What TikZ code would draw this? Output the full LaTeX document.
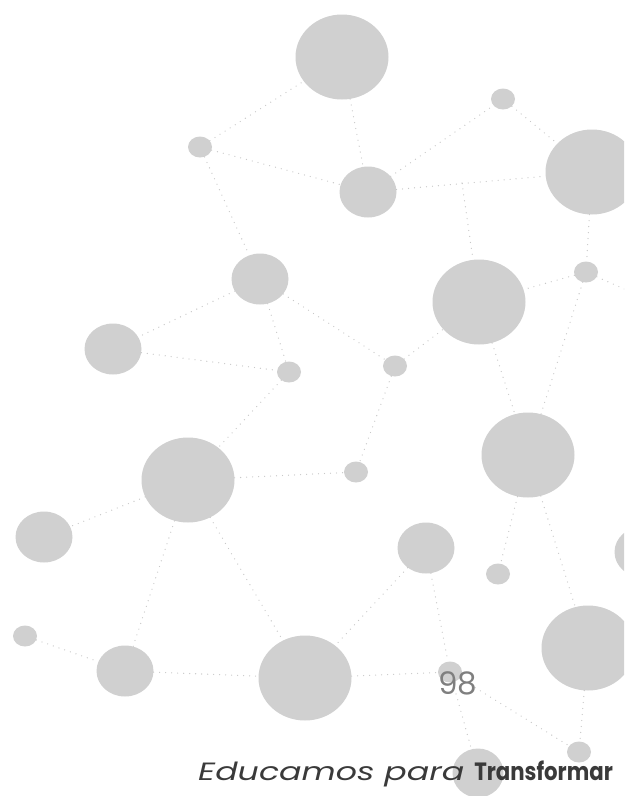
\documentclass[tikz,border=0pt]{standalone}
\usepackage{xcolor}
\usepackage{fontspec}
\usepackage{tikz}
\usetikzlibrary{shapes.geometric}
\newfontfamily\brandfont{Poppins}
\definecolor{bubble}{RGB}{208,208,208}
\definecolor{wire}{RGB}{200,200,200}
\definecolor{ink}{RGB}{58,58,58}

\begin{document}
\begin{tikzpicture}[x=1pt, y=-1pt,
  dot/.style={ellipse, fill=bubble, inner sep=0pt},
  big/.style={dot, minimum width=93pt, minimum height=85pt},
  mid/.style={dot, minimum width=57pt, minimum height=51pt},
  small/.style={dot, minimum width=24pt, minimum height=21pt},
  link/.style={wire, line width=1.3pt, line cap=round, dash pattern=on 0pt off 6pt}
]
\useasboundingbox (0,0) rectangle (628,796);
\clip (0,0) rectangle (624,796);
% bubbles
\node[big]   (b1) at (342,57)  {};
\node[big]   (b2) at (592,172) {};
\node[big]   (b3) at (479,302) {};
\node[big]   (b4) at (188,480) {};
\node[big]   (b5) at (528,455) {};
\node[big]   (b6) at (305,678) {};
\node[big]   (b7) at (588,648) {};
\node[mid]   (m1) at (368,192) {};
\node[mid]   (m2) at (260,279) {};
\node[mid]   (m3) at (113,349) {};
\node[mid]   (m4) at (44,537)  {};
\node[mid]   (m5) at (426,548) {};
\node[mid]   (m6) at (125,671) {};
\node[mid]   (m7) at (643,552) {};
\node[mid, minimum width=51pt, minimum height=49pt] (m8) at (478,773) {};
\node[small] (s1) at (200,147) {};
\node[small] (s2) at (503,99)  {};
\node[small] (s3) at (586,272) {};
\node[small] (s4) at (289,372) {};
\node[small] (s5) at (395,366) {};
\node[small] (s6) at (356,472) {};
\node[small] (s7) at (498,574) {};
\node[small] (s8) at (25,636)  {};
\node[small] (s9) at (450,672) {};
\node[small] (s10) at (579,752) {};
\coordinate (j1) at (462,183);
\coordinate (j2) at (640,296);
% dotted links
\draw[link](s1)--(b1);\draw[link](s1)--(m1);\draw[link](s1)--(m2);\draw[link](b1)--(m1);
\draw[link](m1)--(s2);\draw[link](s2)--(b2);\draw[link](m1)--(b2);\draw[link](j1)--(b3);
\draw[link](b2)--(s3);\draw[link](s3)--(b3);\draw[link](s3)--(j2);\draw[link](s3)--(b5);
\draw[link](b3)--(b5);\draw[link](m2)--(m3);\draw[link](m3)--(s4);\draw[link](m2)--(s4);
\draw[link](m2)--(s5);\draw[link](s5)--(b3);\draw[link](s5)--(s6);\draw[link](s4)--(b4);
\draw[link](b4)--(s6);\draw[link](b4)--(m4);\draw[link](b4)--(m6);\draw[link](b4)--(b6);
\draw[link](m6)--(b6);\draw[link](s8)--(m6);\draw[link](b6)--(s9);\draw[link](m5)--(b6);
\draw[link](m5)--(s9);\draw[link](b5)--(s7);\draw[link](b5)--(b7);\draw[link](s9)--(s10);
\draw[link](s9)--(m8);\draw[link](b7)--(s10);
% page number and motto
\node[font=\brandfont\fontsize{31}{31}\selectfont, text=ink!65] (pg) at (458,683) {98};
\node[font=\brandfont\fontsize{25}{25}\selectfont, text=ink, anchor=base west, inner sep=0pt] (motto) at (198,780)
  {\scalebox{1.33}[1]{\itshape Educamos para}\hspace{10pt}\scalebox{0.85}[1]{\bfseries Transformar}};
\end{tikzpicture}
\end{document}
